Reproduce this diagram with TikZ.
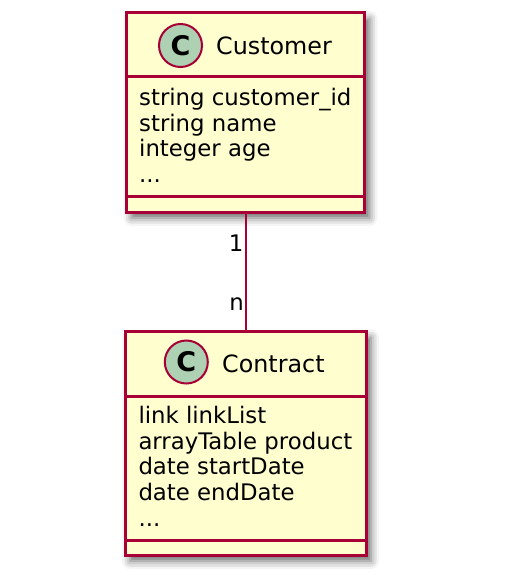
\documentclass[tikz,border=0pt]{standalone}
\usepackage{fontspec}
\setmainfont{DejaVu Sans}
\usetikzlibrary{shadows.blur}
\definecolor{umlborder}{HTML}{A80036}
\definecolor{umlfill}{HTML}{FEFECE}
\definecolor{umlcircle}{HTML}{ADD1B2}
\tikzset{
  x=1pt, y=-1pt,
  classbox/.style={draw=umlborder, fill=umlfill, line width=3pt, inner sep=0pt,
    blur shadow={shadow xshift=5pt, shadow yshift=-6pt, shadow blur radius=8pt, shadow opacity=60}},
  sep/.style={draw=umlborder, line width=3pt},
  cbadge/.style={circle, draw=umlborder, fill=umlcircle, line width=2pt, inner sep=0pt,
    minimum size=43pt, font=\fontsize{27}{27}\selectfont\bfseries},
  ctitle/.style={anchor=base west, inner sep=0pt, font=\fontsize{23.8}{26}\selectfont},
  attr/.style={anchor=base west, inner sep=0pt, font=\fontsize{22.8}{25}\selectfont},
  mult/.style={anchor=base east, inner sep=0pt, font=\fontsize{22.8}{25}\selectfont},
  conn/.style={draw=umlborder, line width=2pt},
}
\begin{document}
\begin{tikzpicture}
\useasboundingbox (0,0) rectangle (522,588);
% Customer
\node[classbox, minimum width=238pt, minimum height=199pt] (cust) at (245.5,112.5) {};
\draw[sep] (126.5,77) -- (364.5,77);
\draw[sep] (126.5,196) -- (364.5,196);
\node[cbadge] (custc) at (180.5,45.5) {C};
\node[ctitle] (custt) at (216,54.3) {Customer};
\node[attr] (ca1) at (139,105.7) {string customer\_id};
\node[attr] (ca2) at (139,131.3) {string name};
\node[attr] (ca3) at (139,156.8) {integer age};
\node[attr] (ca4) at (139,182.3) {...};
% Contract
\node[classbox, minimum width=241pt, minimum height=223.5pt] (contr) at (245.5,443.3) {};
\draw[sep] (125,396) -- (366,396);
\draw[sep] (125,540) -- (366,540);
\node[cbadge] (contrc) at (186.3,362) {C};
\node[ctitle] (contrt) at (222,372.7) {Contract};
\node[attr] (ka1) at (138.3,423.3) {link linkList};
\node[attr] (ka2) at (138.3,449.1) {arrayTable product};
\node[attr] (ka3) at (138.3,474.9) {date startDate};
\node[attr] (ka4) at (138.3,500.7) {date endDate};
\node[attr] (ka5) at (138.3,526.5) {...};
% connector
\draw[conn] (cust.south) -- (contr.north);
\node[mult] (m1) at (243.5,251.7) {1};
\node[mult] (m2) at (244,310) {n};
\end{tikzpicture}
\end{document}
